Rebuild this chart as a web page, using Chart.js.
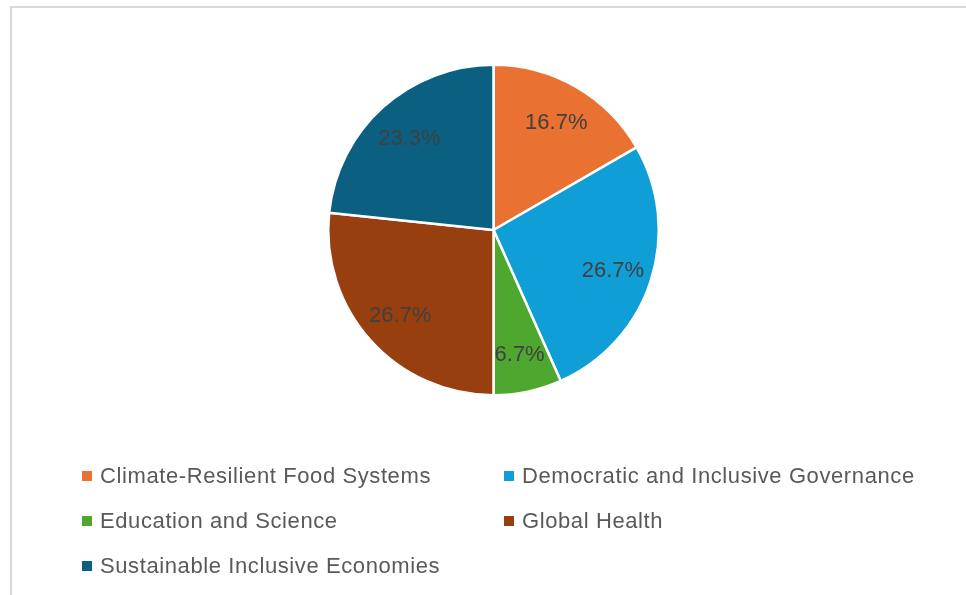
<!DOCTYPE html>
<html>
<head>
<meta charset="utf-8">
<script src="https://cdn.jsdelivr.net/npm/chart.js@4.4.1/dist/chart.umd.min.js"></script>
<style>
  html, body { margin: 0; padding: 0; background: #fff; overflow: hidden; }
  #frame {
    position: absolute; left: 10px; top: 6px; width: 1000px; height: 640px;
    border-top: 2px solid #d9d9d9; border-left: 2px solid #d9d9d9;
  }
  #wrap { position: absolute; left: 0; top: 0; width: 966px; height: 595px; }
  #legend { position: absolute; left: 0; top: 0; font-family: "Liberation Sans", Arial, sans-serif; font-size: 22px; letter-spacing: 0.6px; color: #595959; }
  .item { position: absolute; white-space: nowrap; line-height: 26px; }
  .box { position: absolute; width: 10px; height: 10px; top: 8px; left: -18px; }
</style>
</head>
<body>
<div id="frame"></div>
<div id="wrap"><canvas id="myChart" width="966" height="595"></canvas></div>
<div id="legend"></div>
<script>
const labels = [
    'Climate-Resilient Food Systems',
    'Democratic and Inclusive Governance',
    'Education and Science',
    'Global Health',
    'Sustainable Inclusive Economies'
];
const counts = [5, 8, 2, 8, 7];
const colours = ['#e97132', '#0f9ed5', '#4ea72e', '#983f10', '#0b5f80'];

// legend spots (two columns, Excel style)
const legendCols = [100, 522];
const legendRows = [463, 508, 553];

function percentLabels() {
    return {
        id: 'percentLabels',
        afterDatasetsDraw(chart) {
            const ctx = chart.ctx;
            const meta = chart.getDatasetMeta(0);
            const total = counts.reduce((a, b) => a + b, 0);
            ctx.save();
            ctx.font = '22px "Liberation Sans", Arial, sans-serif';
            ctx.fillStyle = '#404040';
            ctx.textAlign = 'center';
            ctx.textBaseline = 'middle';
            meta.data.forEach((arc, i) => {
                const p = arc.getProps(['x', 'y', 'startAngle', 'endAngle', 'outerRadius'], true);
                const mid = (p.startAngle + p.endAngle) / 2;
                const r = p.outerRadius * 0.76;
                const txt = (counts[i] / total * 100).toFixed(1) + '%';
                ctx.fillText(txt, p.x + Math.cos(mid) * r, p.y + Math.sin(mid) * r + 2);
            });
            ctx.restore();
        }
    };
}

function generatePieChart() {
    const ctx = document.getElementById('myChart');

    new Chart(ctx, {
        type: 'pie',
        data: {
            labels: labels,
            datasets: [{
                data: counts,
                backgroundColor: colours,
                borderColor: '#ffffff',
                borderWidth: 2.5
            }]
        },
        options: {
            responsive: false,
            animation: false,
            layout: { padding: { left: 327, right: 306, top: 63, bottom: 198 } },
            plugins: {
                legend: { display: false },
                tooltip: { enabled: false }
            }
        },
        plugins: [percentLabels()]
    });
}

function buildLegend() {
    const box = document.getElementById('legend');
    labels.forEach((name, i) => {
        const el = document.createElement('div');
        el.className = 'item';
        el.style.left = legendCols[i % 2] + 'px';
        el.style.top = legendRows[Math.floor(i / 2)] + 'px';
        el.innerHTML = '<span class="box" style="background:' + colours[i] + '"></span>' + name;
        box.appendChild(el);
    });
}

generatePieChart();
buildLegend();
</script>
</body>
</html>
